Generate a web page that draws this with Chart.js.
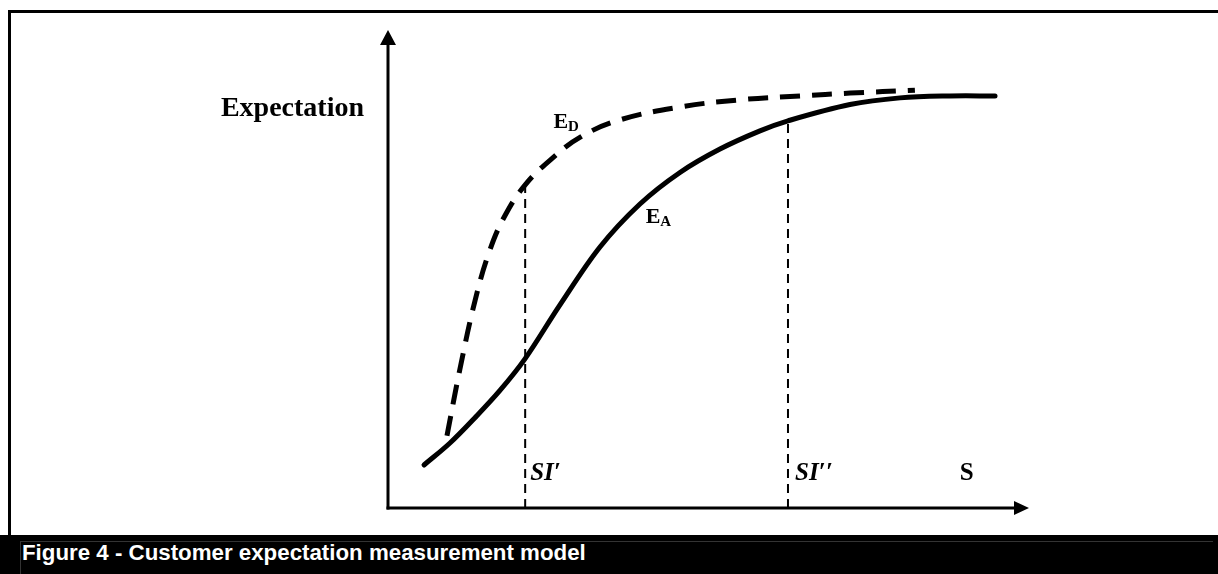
<!DOCTYPE html>
<html>
<head>
<meta charset="utf-8">
<script src="https://cdn.jsdelivr.net/npm/chart.js@4.4.1/dist/chart.umd.min.js"></script>
<style>
  html, body { margin: 0; padding: 0; background: #fff; }
  body { width: 1218px; height: 574px; position: relative; overflow: hidden; }
  #frame { position: absolute; left: 8px; top: 10px; width: 1220px; height: 530px;
           border-left: 3px solid #000; border-top: 3px solid #000; box-sizing: border-box; }
  #wrap { position: absolute; left: 0; top: 0; width: 1218px; height: 574px; }
  #caption { position: absolute; left: 0; top: 535px; width: 1218px; height: 39px; background: #000; }
  #captionInner { position: absolute; left: 20px; top: 6px; width: 1193px; height: 40px;
                  border-left: 1px solid #333; border-top: 1px solid #333; box-sizing: border-box; }
  #captionText { position: absolute; left: 22px; top: 5px; color: #fff;
                 font: bold 22.3px "Liberation Sans", Arial, sans-serif; white-space: nowrap; }
</style>
</head>
<body>
<div id="frame"></div>
<div id="wrap"><canvas id="c" width="1218" height="574"></canvas></div>
<div id="caption"><div id="captionInner"></div><div id="captionText">Figure 4 - Customer expectation measurement model</div></div>
<script>
// Actual expectation E_A (solid)
const eaX = [5.62, 9.67, 13.57, 17.47, 21.37, 26.83, 33.07, 39.31, 45.55, 51.79, 58.03, 62.40, 72.07, 79.88, 87.68, 94.70];
const eaY = [9.0, 13.6, 18.9, 24.6, 31.2, 42.5, 54.6, 63.6, 70.2, 75.1, 78.9, 81.0, 84.4, 85.8, 86.2, 86.2];
// Desired expectation E_D (dashed)
const edX = [9.2, 11.2, 13.6, 15.9, 18.3, 21.4, 25.3, 30.0, 36.2, 45.6, 54.9, 64.3, 72.1, 82.2];
const edY = [15.1, 28.9, 43.5, 54.0, 61.3, 67.6, 72.8, 77.6, 81.2, 83.9, 85.4, 86.2, 86.8, 87.4];
// Marker lines SI' and SI''
const markerNames = ["SI\u2032", "SI\u2032\u2032"];
const markerX = [21.4, 62.4];
const markerTop = [67.6, 81.0];
// Text labels
const yAxisTitle = "Expectation";
const xAxisTitle = "S";

const pts = (xs, ys) => xs.map((x, i) => ({ x: x, y: ys[i] }));

const datasets = [
  { label: "E_A", data: pts(eaX, eaY), borderColor: "#000", borderWidth: 5, pointRadius: 0,
    tension: 0.35, fill: false, borderCapStyle: "round" },
  { label: "E_D", data: pts(edX, edY), borderColor: "#000", borderWidth: 5, pointRadius: 0,
    tension: 0.4, borderDash: [20, 12], fill: false }
];
markerX.forEach((mx, i) => {
  datasets.push({ label: markerNames[i], data: [{ x: mx, y: 0 }, { x: mx, y: markerTop[i] }],
    borderColor: "#000", borderWidth: 2, borderDash: [9, 6], pointRadius: 0, fill: false });
});

const labelPos = { ED: [25.8, 79.5], EA: [40.2, 59.6] };

const decor = {
  id: "decor",
  afterDraw(chart) {
    const ctx = chart.ctx;
    const xs = chart.scales.x, ys = chart.scales.y;
    const x0 = xs.getPixelForValue(0), y0 = ys.getPixelForValue(0);
    const xEnd = xs.getPixelForValue(100), yEnd = ys.getPixelForValue(100);
    ctx.save();
    ctx.strokeStyle = "#000"; ctx.fillStyle = "#000"; ctx.lineWidth = 3;
    ctx.beginPath(); ctx.moveTo(x0, y0 + 1.5); ctx.lineTo(x0, yEnd + 12); ctx.stroke();
    ctx.beginPath(); ctx.moveTo(x0 - 1.5, y0); ctx.lineTo(xEnd - 12, y0); ctx.stroke();
    // arrowheads
    ctx.beginPath(); ctx.moveTo(x0, yEnd); ctx.lineTo(x0 - 8, yEnd + 15); ctx.lineTo(x0 + 8, yEnd + 15); ctx.closePath(); ctx.fill();
    ctx.beginPath(); ctx.moveTo(xEnd, y0); ctx.lineTo(xEnd - 15, y0 - 7); ctx.lineTo(xEnd - 15, y0 + 7); ctx.closePath(); ctx.fill();
    // texts
    ctx.textBaseline = "alphabetic";
    ctx.font = 'bold 28px "Liberation Serif", "Times New Roman", serif';
    ctx.textAlign = "right";
    ctx.fillText(yAxisTitle, x0 - 24, ys.getPixelForValue(82.0));
    ctx.textAlign = "left";
    ctx.font = 'bold 25px "Liberation Serif", "Times New Roman", serif';
    ctx.fillText(xAxisTitle, xs.getPixelForValue(89.2), ys.getPixelForValue(5.8));
    ctx.font = 'bold italic 25px "Liberation Serif", "Times New Roman", serif';
    ctx.fillText(markerNames[0], xs.getPixelForValue(21.4) + 5, ys.getPixelForValue(5.8));
    ctx.fillText(markerNames[1], xs.getPixelForValue(62.4) + 7, ys.getPixelForValue(5.8));
    // E_D and E_A
    const sub = (main, s, px, py) => {
      ctx.font = 'bold 22px "Liberation Serif", "Times New Roman", serif';
      ctx.fillText(main, px, py);
      const w = ctx.measureText(main).width;
      ctx.font = 'bold 15px "Liberation Serif", "Times New Roman", serif';
      ctx.fillText(s, px + w, py + 3);
    };
    sub("E", "D", xs.getPixelForValue(labelPos.ED[0]), ys.getPixelForValue(labelPos.ED[1]));
    sub("E", "A", xs.getPixelForValue(labelPos.EA[0]), ys.getPixelForValue(labelPos.EA[1]));
    ctx.restore();
  }
};

new Chart(document.getElementById("c"), {
  type: "scatter",
  data: { datasets: datasets },
  options: {
    responsive: false, animation: false, showLine: true,
    layout: { padding: { left: 388, top: 30, right: 189, bottom: 66 } },
    plugins: { legend: { display: false }, tooltip: { enabled: false } },
    scales: {
      x: { type: "linear", min: 0, max: 100, display: false },
      y: { type: "linear", min: 0, max: 100, display: false }
    },
    clip: false
  },
  plugins: [decor]
});
</script>
</body>
</html>
